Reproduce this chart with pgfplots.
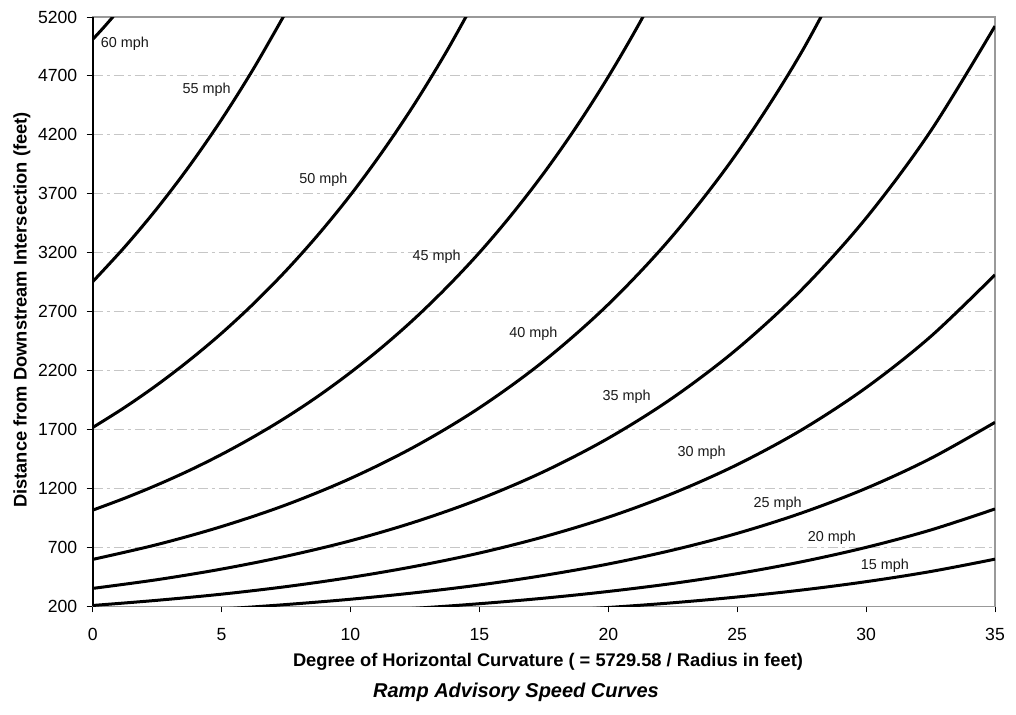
\documentclass[border=0pt]{standalone}
\usepackage{fontspec}
\setmainfont{Liberation Sans}
\usepackage{pgfplots}
\pgfplotsset{compat=1.18}
\tikzset{mphlab/.style={font=\fontsize{7.2}{8.5}\selectfont, text=black!90},
  crv/.style={black, line width=1.5pt, smooth, tension=0.55, no markers}}
\begin{document}
\begin{tikzpicture}
\begin{axis}[name=ax, at={(0,0)}, anchor=south west, scale only axis,
  width=451.15pt, height=294.65pt,
  xmin=0, xmax=35, ymin=200, ymax=5200,
  xtick={0,5,...,35}, ytick={200,700,...,5200},
  tick pos=left, tick align=outside, major tick length=3pt,
  tick style={black, line width=0.5pt},
  axis line style={draw=gray!80, line width=0.6pt},
  ymajorgrids, grid style={gray!45, line width=0.5pt, dash pattern=on 5pt off 2pt on 1.5pt off 2pt},
  /pgf/number format/assume math mode=true, /pgf/number format/1000 sep={},
  ticklabel style={font=\fontsize{8.8}{10.5}\selectfont},
  xticklabel shift=4.5pt, yticklabel shift=1.2pt,
]
\addplot[crv] coordinates {(0,5010) (0.4,5105) (0.8,5205)};
\addplot[crv] coordinates {(0,2954) (1.25,3251) (2.5,3577) (3.75,3936) (5,4331) (6.25,4766) (7.5,5243)};
\addplot[crv] coordinates {(0,1717) (1.25,1889) (2.5,2079) (3.75,2288) (5,2517) (6.25,2770) (7.5,3048) (8.75,3354) (10,3690) (11.25,4061) (12.5,4468) (13.75,4917) (15,5410)};
\addplot[crv] coordinates {(0,1016) (1.25,1118) (2.5,1230) (3.75,1353) (5,1489) (6.25,1639) (7.5,1803) (8.75,1984) (10,2184) (11.25,2403) (12.5,2644) (13.75,2910) (15,3201) (16.25,3523) (17.5,3876) (18.75,4265) (20,4693) (21.25,5164) (22.5,5682)};
\addplot[crv] coordinates {(0,598) (2.5,724) (5,877) (7.5,1061) (10,1285) (12.5,1556) (15,1884) (17.5,2281) (20,2762) (22.5,3344) (25,4049) (27.5,4903) (30,5936)};
\addplot[crv] coordinates {(0,352) (2.5,426) (5,516) (7.5,625) (10,756) (12.5,916) (15,1109) (17.5,1343) (20,1626) (22.5,1969) (25,2384) (27.5,2886) (30,3494) (32.5,4231) (35,5123)};
\addplot[crv] coordinates {(0,207) (2.5,251) (5,303) (7.5,367) (10,445) (12.5,539) (15,652) (17.5,790) (20,956) (22.5,1158) (25,1402) (27.5,1697) (30,2055) (32.5,2488) (35,3013)};
\addplot[crv] coordinates {(0,121) (2.5,146) (5,177) (7.5,215) (10,260) (12.5,315) (15,381) (17.5,462) (20,559) (22.5,677) (25,819) (27.5,992) (30,1201) (32.5,1454) (35,1761)};
\addplot[crv] coordinates {(10,152) (12.5,183) (15,222) (17.5,269) (20,326) (22.5,394) (25,477) (27.5,578) (30,700) (32.5,847) (35,1026)};
\addplot[crv] coordinates {(15,130) (17.5,157) (20,190) (22.5,230) (25,279) (27.5,338) (30,409) (32.5,495) (35,600)};
\node[mphlab] at (axis cs:1.25,4970) {60 mph};
\node[mphlab] at (axis cs:4.42,4581) {55 mph};
\node[mphlab] at (axis cs:8.95,3819) {50 mph};
\node[mphlab] at (axis cs:13.34,3163) {45 mph};
\node[mphlab] at (axis cs:17.09,2514) {40 mph};
\node[mphlab] at (axis cs:20.71,1976) {35 mph};
\node[mphlab] at (axis cs:23.62,1502) {30 mph};
\node[mphlab] at (axis cs:26.57,1073) {25 mph};
\node[mphlab] at (axis cs:28.67,785) {20 mph};
\node[mphlab] at (axis cs:30.73,544) {15 mph};
\end{axis}
\draw[black, line width=0.8pt] (ax.south west) -- (ax.north west);
\node[rotate=90, font=\bfseries\fontsize{9.15}{11}\selectfont] at (-35.35pt,148.15pt) {Distance from Downstream Intersection (feet)};
\node[font=\bfseries\fontsize{9.15}{11}\selectfont] at (227.65pt,-27.85pt) {Degree of Horizontal Curvature ( = 5729.58 / Radius in feet)};
\node[font=\bfseries\itshape\fontsize{10}{12}\selectfont] at (211.65pt,-42.85pt) {Ramp Advisory Speed Curves};
\pgfresetboundingbox
\path (-46.35pt,-53.85pt) rectangle (461.65pt,303.15pt);
\end{tikzpicture}
\end{document}
